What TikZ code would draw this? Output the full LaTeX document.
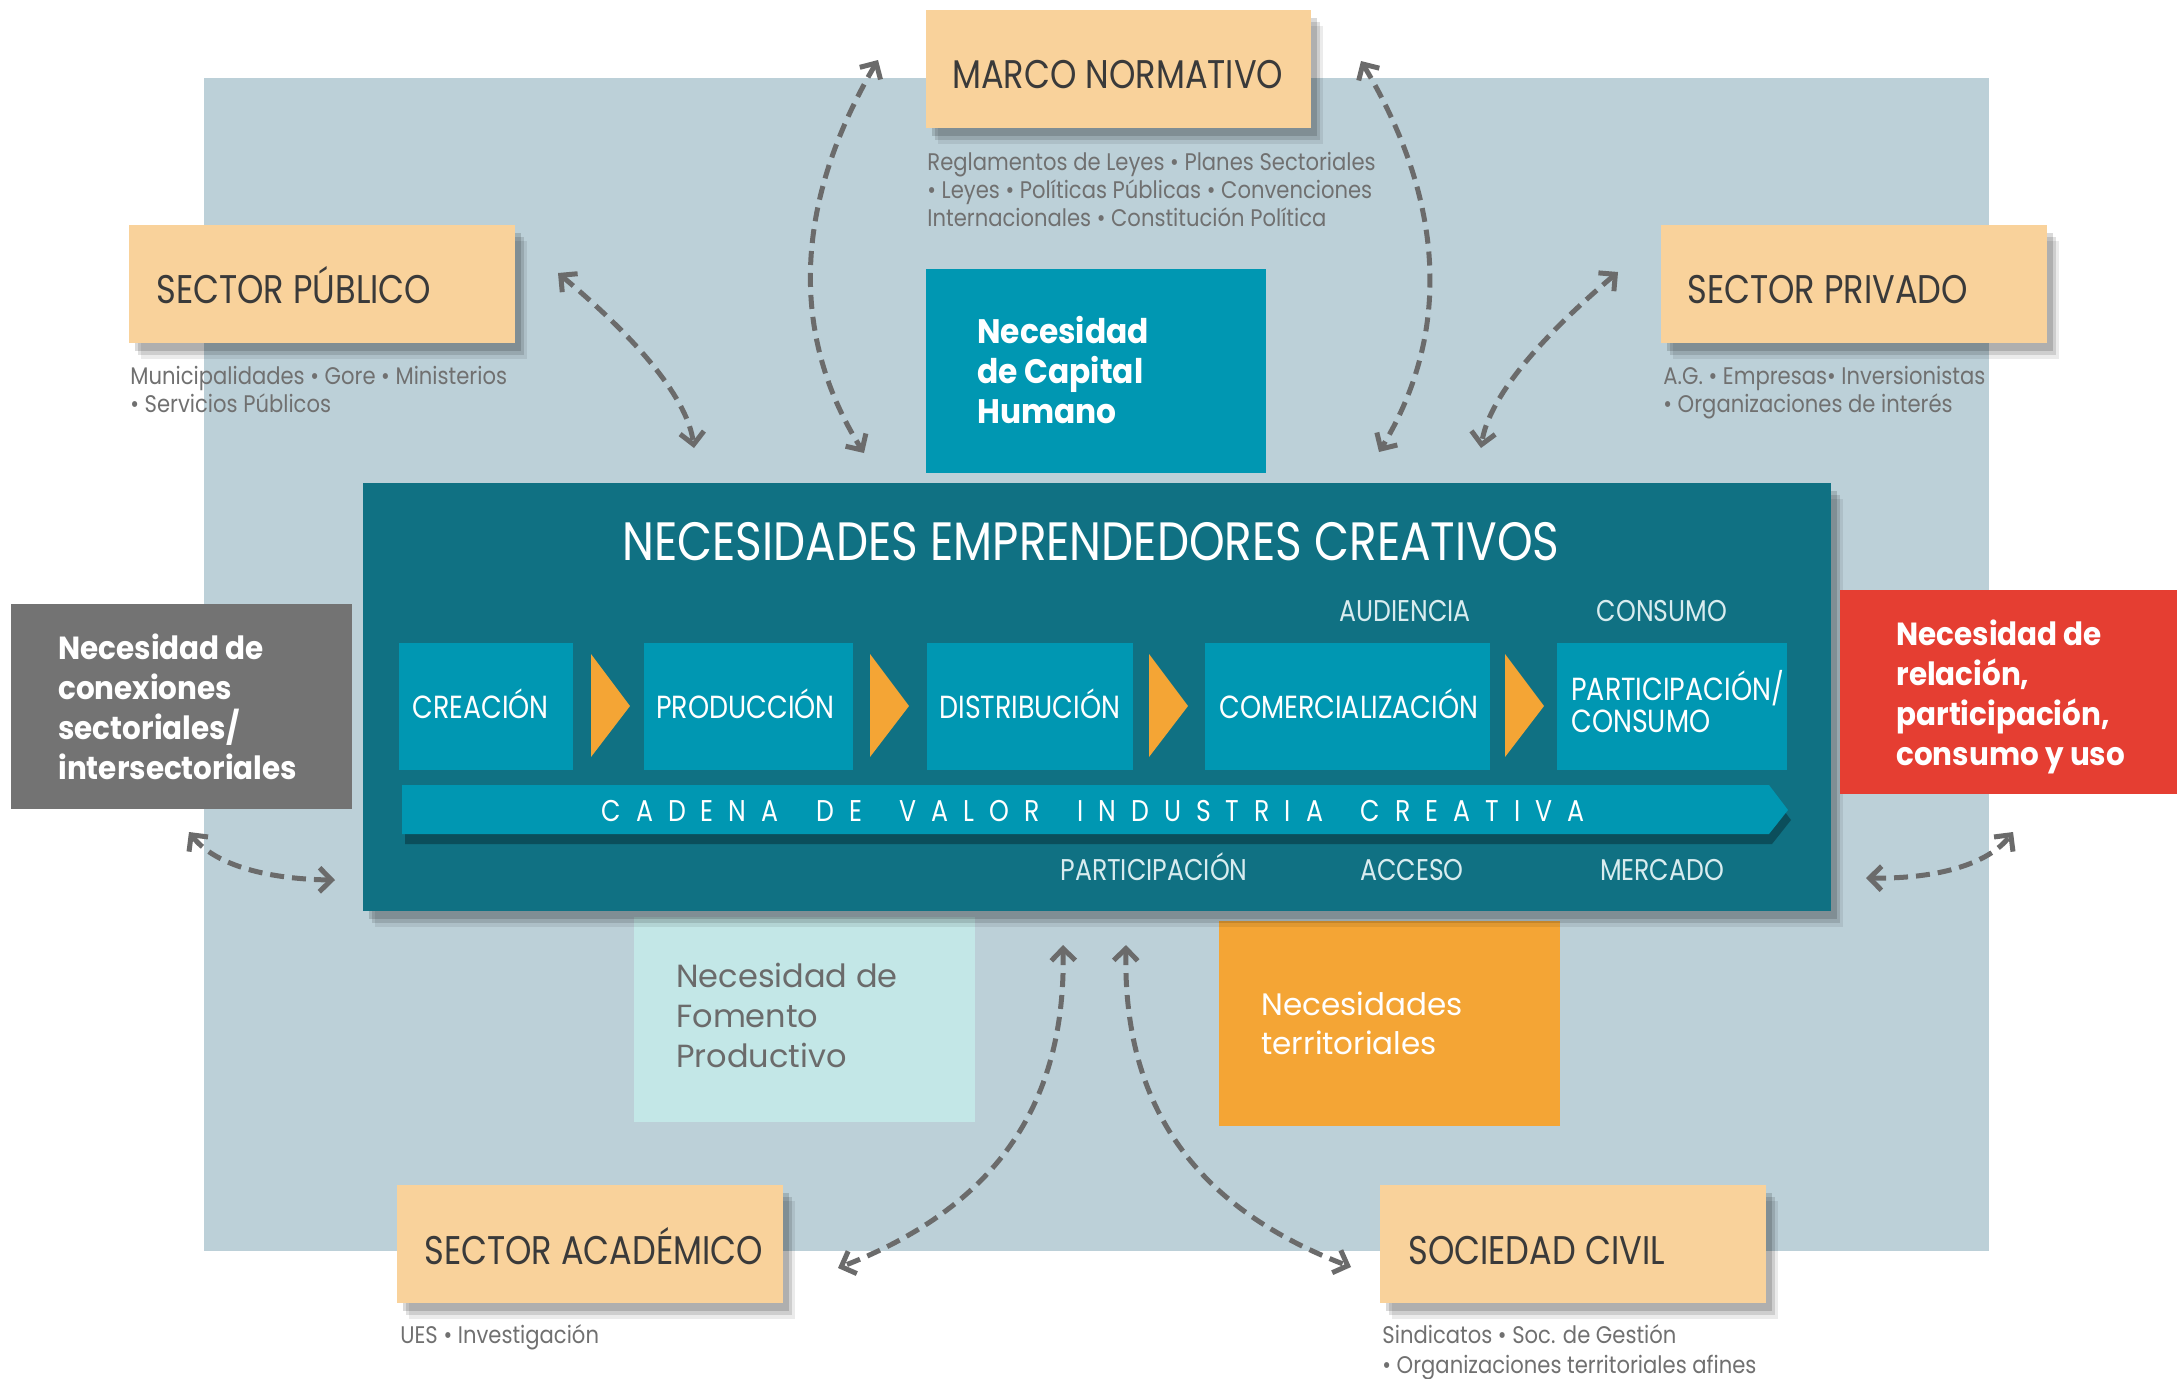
\documentclass[tikz,border=0pt]{standalone}
\usepackage{fontspec}
\setmainfont{Poppins}
\newfontfamily\capsf[FakeStretch=0.84]{Poppins}
\newfontfamily\subf[FakeStretch=0.88]{Poppins}
\newfontfamily\boldf[FakeStretch=0.92]{Poppins}
\usetikzlibrary{arrows.meta,shadows}
\definecolor{bgblue}{HTML}{BCD0D8}
\definecolor{deepteal}{HTML}{107183}
\definecolor{chainteal}{HTML}{0097B2}
\definecolor{peach}{HTML}{F9D29B}
\definecolor{boxgray}{HTML}{737373}
\definecolor{boxred}{HTML}{E53E32}
\definecolor{paleaqua}{HTML}{C3E7E7}
\definecolor{orangey}{HTML}{F4A535}
\definecolor{arrowgray}{HTML}{6B6B6B}
\definecolor{subgray}{HTML}{707070}
\definecolor{darktext}{HTML}{3A3A3A}
\definecolor{lighttxt}{HTML}{D8ECEF}
\newcommand\mybox[6]{\node[#2, anchor=north west, inner sep=0pt, outer sep=0pt, minimum width={(#5-#3)*0.5pt}, minimum height={(#6-#4)*0.5pt}] (#1) at (#3,#4) {};}
\begin{document}
\begin{tikzpicture}[x=0.5pt,y=-0.5pt,
  softshadow/.style={
    drop shadow={shadow xshift=6pt, shadow yshift=-8pt, opacity=0.08, fill=black},
    drop shadow={shadow xshift=4.5pt, shadow yshift=-6pt, opacity=0.12, fill=black},
    drop shadow={shadow xshift=3pt, shadow yshift=-4pt, opacity=0.15, fill=black}},
  peachbox/.style={fill=peach, softshadow},
  peachlbl/.style={anchor=base west, inner sep=0pt, text=darktext, font=\capsf\fontsize{20}{24}\selectfont},
  sublbl/.style={anchor=base west, inner sep=0pt, text=subgray, align=left, font=\subf\fontsize{12}{14}\selectfont},
  chainlbl/.style={anchor=base west, inner sep=0pt, text=white, align=left, font=\capsf\fontsize{16}{16}\selectfont},
  stagelbl/.style={anchor=base, inner sep=0pt, text=lighttxt, font=\capsf\fontsize{15}{16}\selectfont},
  boldlbl/.style={anchor=base west, inner sep=0pt, text=white, align=left, font=\boldf\bfseries\fontsize{16}{20}\selectfont},
  plainlbl/.style={anchor=base west, inner sep=0pt, align=left, font=\fontsize{16}{20}\selectfont},
  dasharrow/.style={draw=arrowgray, line width=2.5pt, dash pattern=on 7pt off 4pt, >={Straight Barb[length=6pt,width=12pt]}, <->},
  stepchev/.style={fill=orangey}
]
\useasboundingbox (0,0) rectangle (2177,1378);
\fill[white] (0,0) rectangle (2177,1378);
% background panel
\mybox{bg}{fill=bgblue}{204}{78}{1989}{1251}
% lower need boxes (drawn first: main box shadow falls on them)
\mybox{fomento}{fill=paleaqua}{634}{917}{975}{1122}
\mybox{territ}{fill=orangey}{1219}{921}{1560}{1126}
% main box
\mybox{main}{fill=deepteal, softshadow}{363}{483}{1831}{911}
% capital humano
\mybox{capital}{fill=chainteal}{926}{269}{1266}{473}
% chain boxes
\mybox{crea}{fill=chainteal}{399}{643}{573}{770}
\mybox{prod}{fill=chainteal}{644}{643}{853}{770}
\mybox{dist}{fill=chainteal}{927}{643}{1133}{770}
\mybox{comer}{fill=chainteal}{1205}{643}{1490}{770}
\mybox{partc}{fill=chainteal}{1557}{643}{1787}{770}
\fill[stepchev] (591,654) -- (630,706) -- (591,757) -- cycle;
\fill[stepchev] (870,654) -- (909,706) -- (870,757) -- cycle;
\fill[stepchev] (1149,654) -- (1188,706) -- (1149,757) -- cycle;
\fill[stepchev] (1505,654) -- (1544,706) -- (1505,757) -- cycle;
% value chain bar
\fill[chainteal, drop shadow={shadow xshift=1.5pt, shadow yshift=-5pt, opacity=0.3, fill=black}] (402,785) -- (1769,785) -- (1788,810) -- (1769,834) -- (402,834) -- cycle;
\node[anchor=base, inner sep=0pt, text=white, font=\capsf\fontsize{15}{16}\selectfont\addfontfeature{LetterSpace=50}] (cadena) at (1093,821) {CADENA\hspace{8pt} DE\hspace{8pt} VALOR\hspace{8pt} INDUSTRIA\hspace{8pt} CREATIVA};
% title and chain labels
\node[anchor=base, inner sep=0pt, text=white, font=\capsf\fontsize{27}{30}\selectfont] (title) at (1091,560) {NECESIDADES EMPRENDEDORES CREATIVOS};
\node[chainlbl] (lcrea) at (412,718) {CREACIÓN};
\node[chainlbl] (lprod) at (656,718) {PRODUCCIÓN};
\node[chainlbl] (ldist) at (939,718) {DISTRIBUCIÓN};
\node[chainlbl] (lcomer) at (1219,718) {COMERCIALIZACIÓN};
\node[chainlbl] (lpartc) at (1571,732) {PARTICIPACIÓN/\\CONSUMO};
\node[stagelbl] (audiencia) at (1405,621) {AUDIENCIA};
\node[stagelbl] (consumo) at (1662,621) {CONSUMO};
\node[stagelbl] (particip) at (1154,880) {PARTICIPACIÓN};
\node[stagelbl] (acceso) at (1412,880) {ACCESO};
\node[stagelbl] (mercado) at (1662,880) {MERCADO};
% side need boxes
\mybox{conex}{fill=boxgray}{11}{604}{352}{809}
\mybox{relac}{fill=boxred}{1840}{590}{2177}{794}
\node[boldlbl] (lconex) at (58,779) {Necesidad de\\conexiones\\sectoriales/\\intersectoriales};
\node[boldlbl] (lrelac) at (1896,765) {Necesidad de\\relación,\\participación,\\consumo y uso};
\node[boldlbl, font=\boldf\bfseries\fontsize{17}{20}\selectfont] (lcapital) at (977,423) {Necesidad\\de Capital\\Humano};
\node[plainlbl, text=arrowgray] (lfomento) at (676,1067) {Necesidad de\\Fomento\\Productivo};
\node[plainlbl, text=white, font=\fontsize{15.5}{19.5}\selectfont] (lterrit) at (1261,1054) {Necesidades\\territoriales};
% actor boxes
\mybox{marco}{peachbox}{926}{10}{1311}{128}
\mybox{publico}{peachbox}{129}{225}{515}{343}
\mybox{privado}{peachbox}{1661}{225}{2047}{343}
\mybox{academico}{peachbox}{397}{1185}{783}{1303}
\mybox{civil}{peachbox}{1380}{1185}{1766}{1303}
\node[peachlbl] (lmarco) at (952,88) {MARCO NORMATIVO};
\node[peachlbl] (lpublico) at (156,303) {SECTOR PÚBLICO};
\node[peachlbl] (lprivado) at (1687,303) {SECTOR PRIVADO};
\node[peachlbl] (lacademico) at (424,1264) {SECTOR ACADÉMICO};
\node[peachlbl] (lcivil) at (1408,1264) {SOCIEDAD CIVIL};
\node[sublbl] (smarco) at (927,226) {Reglamentos de Leyes • Planes Sectoriales\\• Leyes • Políticas Públicas • Convenciones\\Internacionales • Constitución Política};
\node[sublbl] (spublico) at (130,412) {Municipalidades • Gore • Ministerios\\• Servicios Públicos};
\node[sublbl] (sprivado) at (1663,412) {A.G. • Empresas• Inversionistas\\• Organizaciones de interés};
\node[sublbl] (sacademico) at (400,1343) {UES • Investigación};
\node[sublbl, font=\subf\fontsize{12}{15}\selectfont] (scivil) at (1382,1373) {Sindicatos • Soc. de Gestión\\• Organizaciones territoriales afines};
% arrow end points
\coordinate (a1) at (558,273); \coordinate (b1) at (694,448);
\coordinate (a2) at (878,60);  \coordinate (b2) at (864,453);
\coordinate (a3) at (1361,61); \coordinate (b3) at (1379,452);
\coordinate (a4) at (1618,272); \coordinate (b4) at (1481,448);
\coordinate (a5) at (189,832); \coordinate (b5) at (335,880);
\coordinate (a6) at (1866,878); \coordinate (b6) at (2013,832);
\coordinate (a7) at (1063,945); \coordinate (b7) at (838,1268);
\coordinate (a8) at (1126,945); \coordinate (b8) at (1351,1267);
\draw[dasharrow] (a1) .. controls (642,343) and (688,401) .. (b1);
\draw[dasharrow] (a2) .. controls (794,203) and (789,334) .. (b2);
\draw[dasharrow] (a3) .. controls (1446,203) and (1451,334) .. (b3);
\draw[dasharrow] (a4) .. controls (1534,343) and (1488,401) .. (b4);
\draw[dasharrow] (a5) .. controls (213,863) and (262,879) .. (b5);
\draw[dasharrow] (a6) .. controls (1940,879) and (1989,863) .. (b6);
\draw[dasharrow] (a7) .. controls (1066,1100) and (1000,1205) .. (b7);
\draw[dasharrow] (a8) .. controls (1123,1100) and (1189,1205) .. (b8);
\end{tikzpicture}
\end{document}
